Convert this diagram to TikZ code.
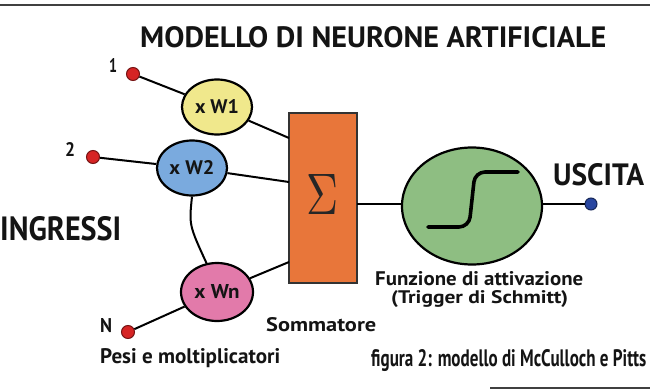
\documentclass[tikz,border=0pt]{standalone}
\usepackage{fontspec}
\setmainfont{PT Sans}
\usepackage{graphicx}
\usetikzlibrary{shapes.geometric}
\definecolor{cyel}{RGB}{240,232,140}
\definecolor{cblu}{RGB}{122,170,222}
\definecolor{cpnk}{RGB}{226,122,170}
\definecolor{corg}{RGB}{232,118,58}
\definecolor{cgrn}{RGB}{142,190,130}
\definecolor{cred}{RGB}{214,36,36}
\definecolor{cout}{RGB}{40,70,160}
\definecolor{ctxt}{RGB}{20,20,20}
\newcommand\fittext[3]{\resizebox{#1pt}{#2pt}{#3}}
\begin{document}
\begin{tikzpicture}[x=1pt,y=-1pt,
  txt/.style={inner sep=0pt,anchor=base west,text=ctxt,font=\bfseries},
  weight/.style={ellipse,draw=black,line width=2.2pt,inner sep=0pt,minimum width=70pt,minimum height=55pt,text=ctxt,font=\bfseries},
  indot/.style={circle,fill=cred,draw=cred!55!black,line width=1pt,minimum size=13pt,inner sep=0pt},
  wire/.style={line width=2pt,draw=black}]
\useasboundingbox (0,0) rectangle (650,390);
\fill[white] (0,0) rectangle (650,390);
\draw[line width=1.5pt,black!75] (0,5) -- (650,5);
\draw[line width=1.5pt,black!75] (490,388) -- (650,388);
% title and labels
\node[txt] (title) at (140,48) {\fittext{466}{21}{MODELLO DI NEURONE ARTIFICIALE}};
\node[txt] (ingr) at (0,240) {\fittext{121}{24}{INGRESSI}};
\node[txt] (usc) at (553,185) {\fittext{91}{22}{USCITA}};
\node[txt] (funz) at (375,285) {\fittext{208}{14}{Funzione di attivazione}};
\node[txt] (trig) at (391,303) {\fittext{177}{13}{(Trigger di Schmitt)}};
\node[txt] (somm) at (266,331) {\fittext{110}{14}{Sommatore}};
\node[txt] (pesi) at (100,363) {\fittext{180}{15}{Pesi e moltiplicatori}};
\node[txt] (fig) at (371,366) {\fittext{275}{17}{figura 2: modello di McCulloch e Pitts}};
% inputs
\node[indot] (d1) at (133,74) {};
\node[indot] (d2) at (93,157) {};
\node[indot] (dn) at (128,332) {};
\node[txt] (l1) at (109,73) {\fittext{8}{14}{1}};
\node[txt] (l2) at (65,157) {\fittext{10}{14}{2}};
\node[txt] (ln) at (100,332) {\fittext{12}{14}{N}};
% weights
\node[weight,fill=cyel] (w1) at (217,107) {\fittext{44}{14}{x W1}};
\node[weight,fill=cblu] (w2) at (192,168) {\fittext{45}{14}{x W2}};
\node[weight,fill=cpnk,minimum width=72pt,minimum height=58pt] (wn) at (217,292) {\fittext{45}{14}{x Wn}};
% summer
\node[rectangle,draw=black!80,line width=1.6pt,fill=corg,minimum width=68pt,minimum height=170pt,inner sep=0pt] (box) at (323,198) {};
\node[inner sep=0pt,text=black!85] (sig) at (323,194) {\fittext{32}{40}{$\Sigma$}};
% activation
\node[ellipse,draw=black,line width=2.2pt,fill=cgrn,minimum width=140pt,minimum height=117pt,inner sep=0pt] (act) at (472,206) {};
\node[circle,fill=cout,draw=cout!55!black,line width=1pt,minimum size=12pt,inner sep=0pt] (out) at (591,204) {};
\coordinate (b1) at (289,138);
\coordinate (b2) at (289,182);
\coordinate (bn) at (289,262);
\coordinate (bo) at (357,204);
\coordinate (ai) at (402,204);
% wires
\draw[wire] (d1) -- (w1);
\draw[wire] (d2) -- (w2);
\draw[wire] (dn) -- (wn);
\draw[wire] (w1) -- (b1);
\draw[wire] (w2) -- (b2);
\draw[wire] (wn) -- (bn);
\draw[wire] (w2.south) .. controls (189,225) .. (wn.110);
\draw[wire] (bo) -- (ai);
\draw[wire] (act.east |- out) -- (out);
% sigmoid
\draw[line width=3.6pt,rounded corners=10pt,line cap=round] (428,227) -- (469,227) -- (475,172) -- (518,172);
\end{tikzpicture}
\end{document}
